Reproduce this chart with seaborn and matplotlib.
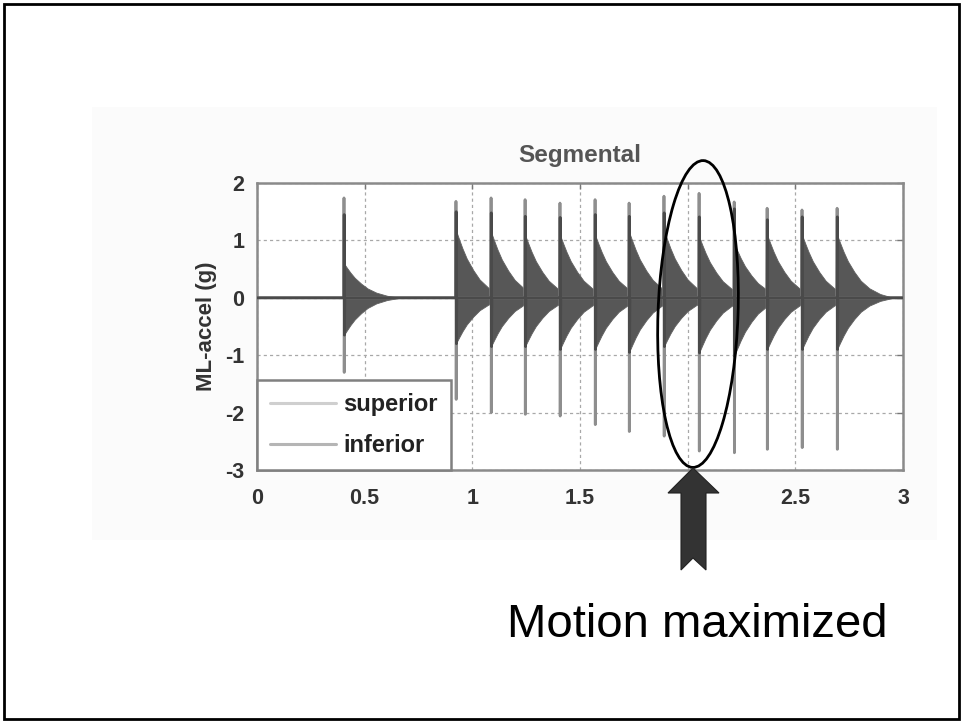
import numpy as np
import pandas as pd
import matplotlib
matplotlib.use("Agg")
import matplotlib.pyplot as plt
from matplotlib.patches import Ellipse, Polygon, Rectangle
from matplotlib.lines import Line2D
import seaborn as sns

# ---------------- data ----------------
burst_onsets = [0.404, 0.924, 1.087, 1.245, 1.407, 1.570, 1.728, 1.890,
                2.053, 2.216, 2.369, 2.531, 2.694]
superior_peaks = [1.74, 1.68, 1.74, 1.71, 1.65, 1.71, 1.65, 1.77,
                  1.82, 1.67, 1.56, 1.53, 1.56]
superior_troughs = [-1.30, -1.77, -2.00, -2.03, -2.06, -2.21, -2.33, -2.41,
                    -2.67, -2.70, -2.64, -2.61, -2.64]
inferior_peaks = [1.45, 1.50, 1.48, 1.42, 1.40, 1.45, 1.42, 1.48,
                  1.41, 1.55, 1.36, 1.41, 1.41]
inferior_env_upper = [0.60, 1.18, 1.15, 1.10, 1.10, 1.10, 1.15, 1.18,
                      1.07, 0.95, 1.10, 1.10, 1.10]
inferior_env_lower = [-0.65, -0.80, -0.85, -0.85, -0.90, -0.90, -0.95, -0.85,
                      -0.96, -1.02, -0.90, -0.90, -0.90]
decay_offsets = [0.0, 0.005, 0.015, 0.03, 0.05, 0.08, 0.11, 0.15, 0.20, 0.26]
decay_rel = [1.0, 0.95, 0.86, 0.73, 0.58, 0.41, 0.27, 0.15, 0.06, 0.0]

x_ticks = [0, 0.5, 1, 1.5, 2, 2.5, 3]
x_tick_labels = ["0", "0.5", "1", "1.5", "2", "2.5", "3"]
y_ticks = [-3, -2, -1, 0, 1, 2]
y_tick_labels = ["-3", "-2", "-1", "0", "1", "2"]
series_names = ["superior", "inferior"]
title_text = "Segmental"
ylabel_text = "ML-accel (g)"
note_text = "Motion maximized"

# ---------------- build line table ----------------
rows = []
t_start, t_end = x_ticks[0], x_ticks[-1]
rows.append(("superior", t_start, 0.0))
for t0, pk, tr in zip(burst_onsets, superior_peaks, superior_troughs):
    rows += [("superior", t0 - 0.001, 0.0), ("superior", t0, pk),
             ("superior", t0 + 0.001, tr), ("superior", t0 + 0.002, 0.0)]
rows.append(("superior", t_end, 0.0))
rows.append(("inferior", t_start, 0.0))
for t0, pk, lo in zip(burst_onsets, inferior_peaks, inferior_env_lower):
    rows += [("inferior", t0, 0.0), ("inferior", t0 + 0.001, pk),
             ("inferior", t0 + 0.002, lo), ("inferior", t0 + 0.004, 0.0)]
rows.append(("inferior", t_end, 0.0))
df = pd.DataFrame(rows, columns=["sensor", "t", "accel"])

# ---------------- styling ----------------
sns.set_style("white")
plt.rcParams["font.family"] = ["Liberation Sans", "DejaVu Sans"]

W, H, DPI = 964, 723, 100
fig = plt.figure(figsize=(W / DPI, H / DPI), dpi=DPI)
fig.patch.set_facecolor("white")

def px_rect(x0, y0, x1, y1):
    return (x0 / DPI, (H - y1) / DPI), (x1 - x0) / DPI, (y1 - y0) / DPI

# pasted-image background
(xy, w, h) = px_rect(92, 107, 937, 540)
fig.patches.append(Rectangle(xy, w, h, transform=fig.dpi_scale_trans,
                             facecolor="#fbfbfb", edgecolor="none", zorder=-5))

ax_left, ax_right, ax_top, ax_bottom = 257, 903, 183, 470
ax = fig.add_axes([ax_left / W, 1 - ax_bottom / H,
                   (ax_right - ax_left) / W, (ax_bottom - ax_top) / H])
ax.set_facecolor("white")

# dense oscillation mass of the inferior sensor
for t0, up, lo in zip(burst_onsets, inferior_env_upper, inferior_env_lower):
    tt = [t0 + o for o in decay_offsets]
    ax.fill_between(tt, [lo * r for r in decay_rel], [up * r for r in decay_rel],
                    color="#575757", lw=0.6, edgecolor="#606060", zorder=2)

palette = {"superior": "#8e8e8e", "inferior": "#4a4a4a"}
sns.lineplot(data=df, x="t", y="accel", hue="sensor", palette=palette,
             estimator=None, sort=False, legend=False, lw=2.0, ax=ax, zorder=3)

ax.set_xlim(x_ticks[0], x_ticks[-1])
ax.set_ylim(y_ticks[0], y_ticks[-1])
ax.set_xticks(x_ticks)
ax.set_xticklabels(x_tick_labels)
ax.set_yticks(y_ticks)
ax.set_yticklabels(y_tick_labels)
ax.grid(True, linestyle=(0, (2.5, 2.5)), color="#a8a8a8", lw=0.9)
ax.set_axisbelow(True)
for s in ax.spines.values():
    s.set_color("#8a8a8a")
    s.set_linewidth(1.8)
ax.tick_params(direction="in", length=4, width=1, color="#777777",
               top=True, right=True, labelsize=15.5, labelcolor="#333333")
ax.tick_params(axis="x", pad=13)
ax.tick_params(axis="y", pad=9)
for lab in ax.get_xticklabels() + ax.get_yticklabels():
    lab.set_fontweight("bold")
ax.set_xlabel("")
ax.set_ylabel(ylabel_text, fontsize=16, fontweight="bold", color="#333333",
              labelpad=6)
ax.set_title(title_text, fontsize=17.5, fontweight="bold", color="#555555",
             pad=15)

handles = [Line2D([], [], color="#cfcfcf", lw=2.2),
           Line2D([], [], color="#b5b5b5", lw=2.2)]
leg = ax.legend(handles, series_names, loc="lower left", borderaxespad=0,
                fontsize=17, handlelength=2.8, handletextpad=0.3,
                labelspacing=0.75, borderpad=0.55, frameon=True,
                fancybox=False, framealpha=1)
leg.get_frame().set_edgecolor("#808080")
leg.get_frame().set_linewidth(1.8)
for txt in leg.get_texts():
    txt.set_fontweight("bold")
    txt.set_color("#222222")

# ellipse highlighting the maximum
ell = Ellipse((698 / DPI, (H - 314) / DPI), 80 / DPI, 307 / DPI, angle=-2.0,
              transform=fig.dpi_scale_trans, facecolor="none",
              edgecolor="black", lw=2.0, zorder=10)
fig.patches.append(ell)

# arrow
arrow_px = [(693, 468), (668, 493), (681, 493), (681, 570), (693, 558),
            (706, 570), (706, 493), (719, 493)]
arrow = Polygon([(x / DPI, (H - y) / DPI) for x, y in arrow_px], closed=True,
                transform=fig.dpi_scale_trans, facecolor="#333333",
                edgecolor="#222222", lw=0.8, zorder=11)
fig.patches.append(arrow)

fig.text(507 / W, 1 - 637 / H, note_text, fontsize=34, color="black",
         ha="left", va="baseline")

# slide border
(xy, w, h) = px_rect(4, 4, 959, 719)
fig.patches.append(Rectangle(xy, w, h, transform=fig.dpi_scale_trans,
                             facecolor="none", edgecolor="black", lw=2.0,
                             zorder=12))

fig.savefig("out.png", dpi=DPI)
